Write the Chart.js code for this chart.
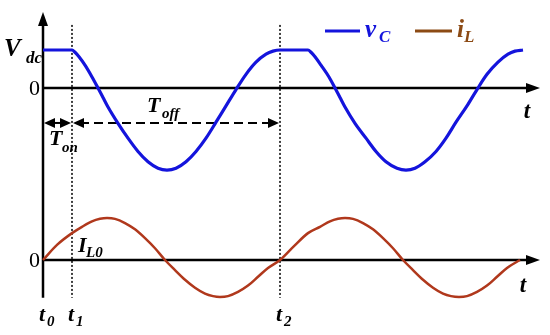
<!DOCTYPE html>
<html>
<head>
<meta charset="utf-8">
<script src="https://cdn.jsdelivr.net/npm/chart.js@4"></script>
<style>
  html, body { margin: 0; padding: 0; background: #fff; }
  #wrap { width: 550px; height: 335px; }
</style>
</head>
<body>
<div id="wrap"><canvas id="waveChart"></canvas></div>
<script>
// time marks (t0 = 0)
const tMarks = [0, 2.9, 23.7];
const tMarkLabels = ['0', '1', '2'];

// capacitor voltage v_C (Vdc = 1)
const vcTime = [0, 2.9, 3.2, 3.6, 4.2, 4.9, 5.5, 6.0, 6.5, 7.5, 8.5, 9.5, 10.5, 11.5, 12.4, 13.3, 14.3, 15.3, 16.3,
                17.3, 18.3, 19.3, 20.3, 21.3, 22.3, 23.0, 23.7,
                26.5, 26.8, 27.2, 27.8, 28.6, 29.2, 29.7, 30.2, 31.2, 32.3, 33.3, 34.3, 35.4, 36.3, 37.2, 38.2, 39.3, 40.3,
                41.3, 42.4, 43.4, 44.4, 45.5, 46.5, 47.2, 48.0];
const vcValues = [1, 1, 0.94, 0.82, 0.6, 0.29, 0, -0.25, -0.5, -0.93, -1.32, -1.67, -1.94, -2.11, -2.16, -2.11, -1.94, -1.67, -1.32,
                  -0.9, -0.47, -0.04, 0.36, 0.68, 0.89, 0.97, 1,
                  1, 0.94, 0.82, 0.6, 0.29, 0, -0.25, -0.5, -0.93, -1.32, -1.67, -1.94, -2.11, -2.16, -2.11, -1.94, -1.67, -1.32,
                  -0.9, -0.47, -0.04, 0.36, 0.68, 0.89, 0.97, 1];

// inductor current i_L (peak = 1)
const ilTime = [0, 1.4, 2.9, 3.9, 4.9, 5.7, 6.4, 7.2, 8.2, 9.2, 10.2, 11.2, 12.2, 13.2, 14.2, 15.2, 16.2,
                17.0, 17.7, 18.5, 19.5, 20.5, 21.5, 22.5, 23.7,
                25.1, 26.5, 27.7, 28.7, 29.5, 30.2, 31.0, 32.0, 33.0, 34.0, 35.0, 36.0, 37.0, 38.0, 39.0, 40.0,
                40.8, 41.6, 42.4, 43.4, 44.4, 45.4, 46.4, 47.7];
const ilValues = [0, 0.36, 0.64, 0.79, 0.92, 0.98, 1, 0.98, 0.88, 0.73, 0.52, 0.28, 0, -0.24, -0.47, -0.66, -0.8,
                  -0.86, -0.88, -0.86, -0.76, -0.61, -0.4, -0.19, 0,
                  0.33, 0.64, 0.79, 0.92, 0.98, 1, 0.98, 0.88, 0.73, 0.52, 0.28, 0, -0.24, -0.47, -0.66, -0.8,
                  -0.86, -0.88, -0.86, -0.76, -0.61, -0.4, -0.19, 0];

const blue = '#1414dc';
const brown = '#b0381c';
const legendBrown = '#8c4a14';
const serif = '"Liberation Serif", "DejaVu Serif", serif';

function arrowHead(ctx, x, y, dir, len, half) {
  // dir: 'up' | 'right' | 'left'
  ctx.beginPath();
  if (dir === 'up') {
    ctx.moveTo(x, y); ctx.lineTo(x - half, y + len); ctx.lineTo(x + half, y + len);
  } else if (dir === 'right') {
    ctx.moveTo(x, y); ctx.lineTo(x - len, y - half); ctx.lineTo(x - len, y + half);
  } else {
    ctx.moveTo(x, y); ctx.lineTo(x + len, y - half); ctx.lineTo(x + len, y + half);
  }
  ctx.closePath();
  ctx.fill();
}

function txt(ctx, s, x, y, size, color, align, style) {
  ctx.font = `${style || 'bold italic'} ${size}px ${serif}`;
  ctx.fillStyle = color;
  ctx.textAlign = align || 'left';
  ctx.textBaseline = 'alphabetic';
  ctx.fillText(s, x, y);
}

const diagramPlugin = {
  id: 'diagram',
  beforeDatasetsDraw(chart) {
    const { ctx, scales } = chart;
    const X = v => scales.x.getPixelForValue(v);
    const YV = v => scales.yV.getPixelForValue(v);
    const YI = v => scales.yI.getPixelForValue(v);
    ctx.save();
    ctx.strokeStyle = '#000';
    ctx.fillStyle = '#000';

    // dotted time markers t1, t2
    ctx.lineWidth = 1.5;
    ctx.setLineDash([2, 2]);
    [tMarks[1], tMarks[2]].forEach(t => {
      ctx.beginPath();
      ctx.moveTo(X(t), YV(1.66));
      ctx.lineTo(X(t), YI(-0.9));
      ctx.stroke();
    });
    ctx.setLineDash([]);

    // vertical axis
    ctx.lineWidth = 2.5;
    ctx.beginPath();
    ctx.moveTo(X(0), YI(-0.9));
    ctx.lineTo(X(0), YV(1.66));
    ctx.stroke();
    arrowHead(ctx, X(0), YV(2.0), 'up', 14, 5);

    // horizontal axes
    [YV(0), YI(0)].forEach(y => {
      ctx.beginPath();
      ctx.moveTo(X(0), y);
      ctx.lineTo(X(48.5), y);
      ctx.stroke();
      arrowHead(ctx, X(49.7), y, 'right', 14, 5);
    });

    // T_on arrow
    const yArr = YV(-0.92);
    ctx.lineWidth = 2;
    ctx.beginPath();
    ctx.moveTo(X(0) + 6, yArr);
    ctx.lineTo(X(tMarks[1]) - 6, yArr);
    ctx.stroke();
    arrowHead(ctx, X(0) + 1, yArr, 'left', 11, 5);
    arrowHead(ctx, X(tMarks[1]) - 1, yArr, 'right', 11, 5);

    // T_off dashed arrow
    ctx.setLineDash([9, 5]);
    ctx.beginPath();
    ctx.moveTo(X(tMarks[1]) + 8, yArr);
    ctx.lineTo(X(tMarks[2]) - 8, yArr);
    ctx.stroke();
    ctx.setLineDash([]);
    arrowHead(ctx, X(tMarks[1]) + 1, yArr, 'left', 11, 5);
    arrowHead(ctx, X(tMarks[2]) - 1, yArr, 'right', 11, 5);
    ctx.restore();
  },
  afterDatasetsDraw(chart) {
    const { ctx, scales } = chart;
    const X = v => scales.x.getPixelForValue(v);
    const YV = v => scales.yV.getPixelForValue(v);
    const YI = v => scales.yI.getPixelForValue(v);
    ctx.save();

    // axis labels
    txt(ctx, 'V', X(-3.9), YV(0.84), 25, '#000');
    txt(ctx, 'dc', X(-1.7), YV(0.66), 17, '#000');
    txt(ctx, '0', X(-0.3), YV(-0.18), 22, '#000', 'right', 'normal');
    txt(ctx, '0', X(-0.3), YI(-0.17), 22, '#000', 'right', 'normal');
    txt(ctx, 't', X(48.4), YV(-0.78), 23, '#000', 'center');
    txt(ctx, 't', X(48.0), YI(-0.76), 23, '#000', 'center');

    // interval labels
    txt(ctx, 'T', X(0.6), YV(-1.5), 22, '#000');
    txt(ctx, 'on', X(1.9), YV(-1.68), 15, '#000');
    txt(ctx, 'T', X(10.4), YV(-0.63), 22, '#000');
    txt(ctx, 'off', X(11.9), YV(-0.79), 15, '#000');
    txt(ctx, 'I', X(3.5), YI(0.19), 22, '#000');
    txt(ctx, 'L0', X(4.3), YI(0.07), 15, '#000');

    // time labels
    tMarks.forEach((t, i) => {
      txt(ctx, 't', X(t) - 1, YI(-1.45), 22, '#000', 'center');
      txt(ctx, tMarkLabels[i], X(t) + 4, YI(-1.57), 15, '#000');
    });

    // legend
    const yLeg = YV(1.5);
    ctx.lineWidth = 3;
    ctx.strokeStyle = blue;
    ctx.beginPath();
    ctx.moveTo(X(28.2), yLeg);
    ctx.lineTo(X(31.7), yLeg);
    ctx.stroke();
    txt(ctx, 'v', X(32.2), YV(1.35), 25, blue);
    txt(ctx, 'C', X(33.6), YV(1.2), 17, blue);
    ctx.strokeStyle = legendBrown;
    ctx.beginPath();
    ctx.moveTo(X(37.2), yLeg);
    ctx.lineTo(X(40.9), yLeg);
    ctx.stroke();
    txt(ctx, 'i', X(41.4), YV(1.35), 25, legendBrown);
    txt(ctx, 'L', X(42.1), YV(1.2), 17, legendBrown);
    ctx.restore();
  }
};

new Chart(document.getElementById('waveChart'), {
  type: 'line',
  data: {
    datasets: [
      {
        label: 'v_C',
        data: vcTime.map((t, i) => ({ x: t, y: vcValues[i] })),
        yAxisID: 'yV',
        borderColor: blue,
        borderWidth: 3.2,
        pointRadius: 0,
        cubicInterpolationMode: 'monotone',
        clip: false
      },
      {
        label: 'i_L',
        data: ilTime.map((t, i) => ({ x: t, y: ilValues[i] })),
        yAxisID: 'yI',
        borderColor: brown,
        borderWidth: 2.5,
        pointRadius: 0,
        cubicInterpolationMode: 'monotone',
        clip: false
      }
    ]
  },
  options: {
    responsive: true,
    maintainAspectRatio: false,
    animation: false,
    layout: { padding: 0 },
    plugins: { legend: { display: false }, tooltip: { enabled: false } },
    scales: {
      x: { type: 'linear', display: false, min: -4.3, max: 50.7 },
      yV: { type: 'linear', display: false, min: -6.5, max: 2.3158 },
      yI: { type: 'linear', display: false, min: -1.7857, max: 6.1905 }
    }
  },
  plugins: [diagramPlugin]
});
</script>
</body>
</html>
